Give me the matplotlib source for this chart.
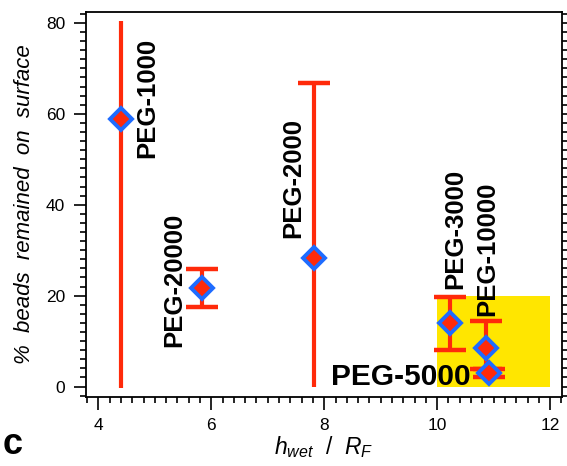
import matplotlib
matplotlib.use("Agg")
import matplotlib.pyplot as plt
from matplotlib.patches import Rectangle
from matplotlib.ticker import MultipleLocator

plt.rcParams['font.family'] = ['Liberation Sans', 'DejaVu Sans']
plt.rcParams['mathtext.fontset'] = 'custom'
plt.rcParams['mathtext.rm'] = 'Liberation Sans'
plt.rcParams['mathtext.it'] = 'Liberation Sans:italic'

# data
names = ["PEG-1000", "PEG-20000", "PEG-2000", "PEG-3000", "PEG-10000", "PEG-5000"]
h_wet_rf = [4.40, 5.84, 7.81, 10.22, 10.87, 10.92]
pct_left = [58.9, 21.7, 28.3, 14.0, 8.4, 3.0]
err_lo = [-0.3, 17.4, -0.2, 8.1, 3.9, 2.1]
err_hi = [80.5, 25.9, 66.7, 19.6, 14.4, 3.9]
cap_lo = [False, True, False, True, True, True]
cap_hi = [False, True, True, True, True, True]

# label anchors (x, y) and orientation
lab_x = [4.87, 5.34, 7.45, 10.32, 10.89, 8.12]
lab_y = [50.3, 8.6, 32.7, 21.4, 15.6, 0.3]
lab_rot = [90, 90, 90, 90, 90, 0]

red = "#ff2a0a"
blue = "#1e6cff"
yellow = "#ffe600"

fig = plt.figure(figsize=(5.67, 4.66), dpi=100)
ax = fig.add_axes([0.1517, 0.1481, 0.8395, 0.8261])

# yellow box
ax.add_patch(Rectangle((10, 0), 2, 20, facecolor=yellow, edgecolor='none', zorder=1))

# error bars
ax.vlines(h_wet_rf, err_lo, err_hi, color=red, lw=3, zorder=2)
for x, lo, hi, clo, chi in zip(h_wet_rf, err_lo, err_hi, cap_lo, cap_hi):
    if clo:
        ax.plot(x, lo, marker='_', ms=23, mew=3.2, color=red, zorder=2)
    if chi:
        ax.plot(x, hi, marker='_', ms=23, mew=3.2, color=red, zorder=2)

ax.plot(h_wet_rf, pct_left, ls='none', marker='D', ms=11, mfc=red, mec=blue, mew=2.8, zorder=3)

for n, x, y, r in zip(names, lab_x, lab_y, lab_rot):
    if r == 90:
        ax.text(x, y, n, rotation=90, ha='center', va='bottom', fontsize=18.5,
                fontweight='bold', zorder=4)
    else:
        ax.text(x, y, n, ha='left', va='baseline', fontsize=21.5,
                fontweight='bold', zorder=4)

ax.set_xlim(3.782, 12.21)
ax.set_ylim(-2.3, 82.4)
ax.xaxis.set_major_locator(MultipleLocator(2))
ax.xaxis.set_minor_locator(MultipleLocator(0.2))
ax.yaxis.set_major_locator(MultipleLocator(20))
ax.yaxis.set_minor_locator(MultipleLocator(2))
ax.tick_params(which='both', direction='out', labelsize=12.5, width=1.2,
               left=True, right=True, top=False, bottom=True, labelright=False)
ax.tick_params(which='major', length=9, pad=6)
ax.tick_params(which='minor', length=4.5)
for s in ax.spines.values():
    s.set_linewidth(1.3)

ax.set_xlabel(r'$h_{wet}$  /  $R_F$', fontsize=16.5, labelpad=1)
ax.set_ylabel('%  beads  remained  on  surface', fontsize=16, style='italic', labelpad=8)

fig.text(0.004, 0.008, 'c', fontsize=26, fontweight='bold', ha='left', va='bottom')

fig.savefig('out.png', dpi=100)
